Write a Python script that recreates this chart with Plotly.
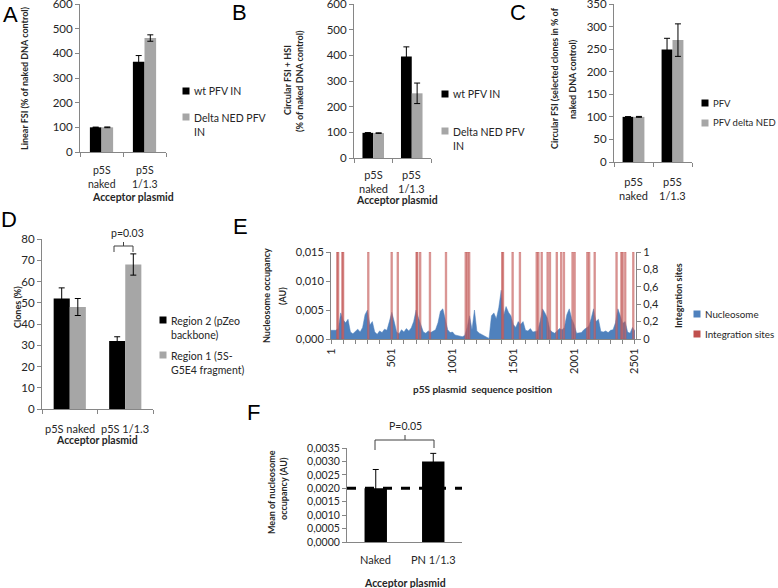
import plotly.graph_objects as go

W, H = 778, 588
def fx(px): return px / W
def fy(py): return 1 - py / H

# ---------------- DATA ----------------
cats_abc = ["p5S<br>naked", "p5S<br>1/1.3"]
a_wt = [100, 366]; a_wt_err = [1, 25]
a_dned = [100, 462]; a_dned_err = [1.5, 13]
b_wt = [98, 395]; b_wt_err = [1, 38]
b_dned = [97, 252]; b_dned_err = [1, 40]
c_pfv = [100, 249]; c_pfv_err = [0.5, 25]
c_dned = [100, 270]; c_dned_err = [1, 36]

d_cats = ["p5S naked", "p5S 1/1.3"]
d_reg2 = [52, 32]; d_reg2_err = [5, 2]
d_reg1 = [48, 68]; d_reg1_err = [4, 5]

e_pos = list(range(1, 2502, 20))
e_nuc = [0.0015, 0.0015, 0.0015, 0.0018, 0.0045, 0.0033, 0.0028, 0.0034, 0.0012, 0.0009,
         0.0014, 0.0017, 0.0012, 0.0020, 0.0042, 0.0050, 0.0024, 0.0030, 0.0012, 0.0008,
         0.0014, 0.0011, 0.0017, 0.0015, 0.0030, 0.0046, 0.0030, 0.0012, 0.0009, 0.0016,
         0.0012, 0.0018, 0.0014, 0.0019, 0.0030, 0.0050, 0.0036, 0.0025, 0.0012, 0.0010,
         0.0014, 0.0011, 0.0013, 0.0016, 0.0028, 0.0048, 0.0052, 0.0036, 0.0016, 0.0011,
         0.0012, 0.0007, 0.0006, 0.0004, 0.0004, 0.0006, 0.0020, 0.0040, 0.0016, 0.0050,
         0.0014, 0.0010, 0.0008, 0.0006, 0.0003, 0.0001, 0.0040, 0.0045, 0.0035, 0.0054,
         0.0084, 0.0040, 0.0056, 0.0046, 0.0040, 0.0025, 0.0020, 0.0030, 0.0025, 0.0030,
         0.0015, 0.0014, 0.0018, 0.0012, 0.0013, 0.0014, 0.0030, 0.0052, 0.0045, 0.0036,
         0.0016, 0.0012, 0.0010, 0.0015, 0.0018, 0.0016, 0.0020, 0.0042, 0.0052, 0.0035,
         0.0025, 0.0010, 0.0010, 0.0011, 0.0016, 0.0019, 0.0022, 0.0035, 0.0052, 0.0030,
         0.0034, 0.0013, 0.0012, 0.0014, 0.0011, 0.0015, 0.0016, 0.0028, 0.0052, 0.0040,
         0.0027, 0.0030, 0.0012, 0.0010, 0.0020, 0.0014]
e_sites = [53, 60, 95, 101, 308, 500, 550, 705, 711, 735, 815, 947, 1109, 1123, 1138,
           1410, 1416, 1495, 1555, 1693, 1707, 1734, 1783, 1802, 1858, 1895, 1917, 1988,
           2005, 2110, 2125, 2170, 2350, 2390, 2400, 2422, 2488]
e_site_val = [1, 1, 1, 1, 1, 1, 1, 1, 1, 1, 1, 1, 1, 1, 1, 1, 1, 1, 1, 1, 1, 1, 1, 1,
              1, 1, 1, 1, 1, 1, 1, 1, 1, 1, 1, 1, 1]
e_xticks = [1, 501, 1001, 1501, 2001, 2501]
e_yticks = [0, 0.005, 0.010, 0.015]
e_yticktext = ["0,000", "0,005", "0,010", "0,015"]
e_y2ticks = [0, 0.2, 0.4, 0.6, 0.8, 1]
e_y2ticktext = ["0", "0,2", "0,4", "0,6", "0,8", "1"]

f_cats = ["Naked", "PN 1/1.3"]
f_mean = [0.0020, 0.0030]; f_err = [0.0007, 0.0003]
f_ref = 0.0020
f_yticks = [0, 0.0005, 0.001, 0.0015, 0.002, 0.0025, 0.003, 0.0035]
f_yticktext = ["0,0000", "0,0005", "0,0010", "0,0015", "0,0020", "0,0025", "0,0030", "0,0035"]

# ---------------- STYLE ----------------
FONT = "Lato"
AX = "#868686"
TXT = "#262626"
BLACK = "#000000"
GREY = "#a6a6a6"
BLUE = "#4f81bd"
RED = "#c0504d"

fig = go.Figure()

def add_bar(x, y, err, color, xa, ya, width, offset):
    fig.add_trace(go.Bar(
        x=x, y=y, width=width, offset=offset, xaxis=xa, yaxis=ya,
        marker=dict(color=color, line=dict(width=0)),
        error_y=dict(type="data", array=err, color="black", thickness=1, width=3),
        showlegend=False, hoverinfo="skip"))

idx2 = list(range(len(cats_abc)))
add_bar(idx2, a_wt, a_wt_err, BLACK, "x", "y", 0.27, -0.27)
add_bar(idx2, a_dned, a_dned_err, GREY, "x", "y", 0.27, 0.0)
add_bar(idx2, b_wt, b_wt_err, BLACK, "x2", "y2", 0.28, -0.28)
add_bar(idx2, b_dned, b_dned_err, GREY, "x2", "y2", 0.28, 0.0)
add_bar(idx2, c_pfv, c_pfv_err, BLACK, "x3", "y3", 0.28, -0.28)
add_bar(idx2, c_dned, c_dned_err, GREY, "x3", "y3", 0.28, 0.0)
idxd = list(range(len(d_cats)))
add_bar(idxd, d_reg2, d_reg2_err, BLACK, "x4", "y4", 0.29, -0.29)
add_bar(idxd, d_reg1, d_reg1_err, GREY, "x4", "y4", 0.29, 0.0)

# E
fig.add_trace(go.Scatter(x=e_pos, y=e_nuc, mode="lines", fill="tozeroy",
                         line=dict(color=BLUE, width=0.5), fillcolor=BLUE,
                         xaxis="x5", yaxis="y5", showlegend=False, hoverinfo="skip"))
fig.add_trace(go.Bar(x=e_sites, y=e_site_val, width=12, xaxis="x5", yaxis="y6",
                     marker=dict(color="rgba(205,110,108,0.6)",
                                 line=dict(color="rgba(192,80,77,0.95)", width=0.5)),
                     showlegend=False, hoverinfo="skip"))

# F
idxf = list(range(len(f_cats)))
add_bar(idxf, f_mean, f_err, BLACK, "x7", "y7", 0.39, -0.195)
fig.add_trace(go.Scatter(x=[-0.5, 1.5], y=[f_ref, f_ref], mode="lines",
                         line=dict(color="black", width=3, dash="dash"),
                         xaxis="x7", yaxis="y7", showlegend=False, hoverinfo="skip"))

valfont = dict(family=FONT, size=11.5, color=TXT)

def cat_axis(x0, x1, cats, anchor):
    n = len(cats)
    return dict(domain=[fx(x0), fx(x1)], range=[-0.5, n - 0.5], anchor=anchor,
                tickmode="array", tickvals=list(range(n)), ticks="", showticklabels=False,
                showline=True, linecolor=AX, linewidth=1, showgrid=False, zeroline=False,
                automargin=False,
                minor=dict(tickmode="array", tickvals=[i - 0.5 for i in range(n + 1)],
                           ticks="outside", ticklen=4, tickcolor=AX, showgrid=False))

def val_axis(y0, y1, rng, anchor, tickvals, ticktext=None, font=valfont):
    d = dict(domain=[fy(y1), fy(y0)], range=rng, anchor=anchor, automargin=False,
             tickmode="array", tickvals=tickvals, ticks="outside", ticklen=4, tickcolor=AX,
             showline=True, linecolor=AX, linewidth=1, showgrid=False, zeroline=False,
             tickfont=font, ticklabeloverflow="allow")
    if ticktext is not None:
        d["ticktext"] = ticktext
    return d

efont = dict(family=FONT, size=11, color=TXT)
lay = {}
lay["xaxis"] = cat_axis(80, 166, cats_abc, "y")
lay["yaxis"] = val_axis(4, 152, [0, 600], "x", [0, 100, 200, 300, 400, 500, 600])
lay["xaxis2"] = cat_axis(354, 431, cats_abc, "y2")
lay["yaxis2"] = val_axis(4, 158, [0, 600], "x2", [0, 100, 200, 300, 400, 500, 600])
lay["xaxis3"] = cat_axis(614, 692, cats_abc, "y3")
lay["yaxis3"] = val_axis(4, 162, [0, 350], "x3", [0, 50, 100, 150, 200, 250, 300, 350])
lay["xaxis4"] = cat_axis(42, 153, d_cats, "y4")
lay["yaxis4"] = val_axis(239, 409, [0, 80], "x4", [0, 10, 20, 30, 40, 50, 60, 70, 80])
lay["xaxis5"] = dict(domain=[fx(331), fx(636)], range=[1, 2510], anchor="y5", automargin=False,
                     tickmode="array", tickvals=e_xticks, ticktext=[str(v) for v in e_xticks],
                     tickangle=-90, ticks="outside", ticklen=4, tickcolor=AX,
                     showline=True, linecolor=AX, showgrid=False, zeroline=False,
                     tickfont=efont, ticklabelstandoff=0, ticklabeloverflow="allow",
                     minor=dict(tick0=1, dtick=100, ticks="outside", ticklen=4,
                                tickcolor=AX, showgrid=False))
lay["yaxis5"] = val_axis(252, 339, [0, 0.015], "x5", e_yticks, e_yticktext, efont)
lay["yaxis6"] = dict(domain=[fy(339), fy(252)], range=[0, 1], anchor="x5", overlaying="y5",
                     side="right", tickmode="array", tickvals=e_y2ticks, ticktext=e_y2ticktext,
                     ticks="outside", ticklen=4, tickcolor=AX, showline=True, linecolor=AX,
                     showgrid=False, zeroline=False, tickfont=efont, automargin=False,
                     ticklabeloverflow="allow")
lay["xaxis7"] = cat_axis(347, 462, f_cats, "y7")
lay["xaxis7"]["minor"]["ticks"] = ""
lay["yaxis7"] = val_axis(448, 542, [0, 0.0035], "x7", f_yticks, f_yticktext,
                         dict(family=FONT, size=10.5, color=TXT))

ann = []
shapes = []
def text(x, y, s, size=10.5, bold=False, angle=0, xanchor="center", yanchor="middle", color=TXT, align="center"):
    ann.append(dict(x=fx(x), y=fy(y), xref="paper", yref="paper", text=("<b>%s</b>" % s) if bold else s,
                    showarrow=False, textangle=angle, xanchor=xanchor, yanchor=yanchor, align=align,
                    font=dict(family=FONT, size=size, color=color)))

def cat_labels(xref, cats, y_first, size=11):
    # category labels placed on the category axis scale (one text per category)
    for i, c in enumerate(cats):
        n = c.count("<br>") + 1
        yc = y_first + (n - 1) * 1.3 * size / 2
        ann.append(dict(x=i, xref=xref, y=fy(yc), yref="paper", text=c,
                        showarrow=False, xanchor="center", yanchor="middle", align="center",
                        font=dict(family=FONT, size=size, color=TXT)))

def swatch(cx, cy, color, s=7):
    shapes.append(dict(type="rect", xref="paper", yref="paper",
                       x0=fx(cx - s / 2), x1=fx(cx + s / 2), y0=fy(cy + s / 2), y1=fy(cy - s / 2),
                       fillcolor=color, line=dict(width=0)))

def legend_item(cx, cy, color, label, size=10.5):
    swatch(cx, cy, color)
    lines = label.count("<br>") + 1
    if lines == 1:
        text(cx + 6, cy, label, xanchor="left", align="left", size=size)
    else:
        text(cx + 6, cy - 7.5, label, xanchor="left", yanchor="top", align="left", size=size)

def seg(x0, y0, x1, y1, color="#404040", w=1):
    shapes.append(dict(type="line", xref="paper", yref="paper", x0=fx(x0), y0=fy(y0),
                       x1=fx(x1), y1=fy(y1), line=dict(color=color, width=w)))

# Panel letters
for (lx, ly, l) in [(10, 14, "A"), (239, 12, "B"), (518, 12, "C"), (9, 219, "D"),
                    (240, 227, "E"), (253, 413, "F")]:
    ann.append(dict(x=fx(lx), y=fy(ly), xref="paper", yref="paper", text=l, showarrow=False,
                    xanchor="center", yanchor="middle",
                    font=dict(family="Liberation Sans", size=22, color="black")))

cat_labels("x", cats_abc, 170.5, 10.5)
cat_labels("x2", cats_abc, 174.5)
cat_labels("x3", cats_abc, 181)
cat_labels("x4", d_cats, 428)
cat_labels("x7", f_cats, 559)

TS = 9
# A
text(24, 78, "Linear FSI (% of naked DNA control)", bold=True, angle=-90, size=TS)
text(133, 197, "Acceptor plasmid", bold=True, size=10.5)
legend_item(186, 91, BLACK, "wt PFV IN")
legend_item(186, 117, GREY, "Delta NED PFV<br>IN")
# B
text(287, 80, "Circular FSI + HSI", bold=True, angle=-90, size=TS)
text(300, 81, "(% of naked DNA control)", bold=True, angle=-90, size=TS)
text(397, 199.5, "Acceptor plasmid", bold=True, size=10.5)
legend_item(445, 94, BLACK, "wt PFV IN")
legend_item(445, 131, GREY, "Delta NED PFV<br>IN")
# C
text(554, 78, "Circular FSI (selected clones in % of", bold=True, angle=-90, size=TS)
text(573, 79, "naked DNA control)", bold=True, angle=-90, size=TS)
legend_item(705, 103, BLACK, "PFV", 9.5)
legend_item(705, 123, GREY, "PFV delta NED", 9.5)
# D
text(17, 307, "Clones (%)", bold=True, angle=-90, size=TS)
text(97, 440, "Acceptor plasmid", bold=True, size=10.5)
legend_item(163, 320, BLACK, "Region 2 (pZeo<br>backbone)")
legend_item(163, 355, GREY, "Region 1 (5S-<br>G5E4 fragment)")
text(128, 233, "p=0.03", size=10.5)
seg(114, 252, 114, 246); seg(114, 246, 133, 246); seg(133, 246, 133, 252); seg(123.5, 246, 123.5, 242)
# E
text(266, 296, "Nucleosome occupancy", bold=True, angle=-90, size=TS)
text(282, 296, "(AU)", bold=True, angle=-90, size=TS)
text(678, 296, "Integration sites", bold=True, angle=-90, size=TS)
text(483, 389, "p5S plasmid  sequence position", bold=True, size=10)
legend_item(697, 314, BLUE, "Nucleosome", 9.8)
legend_item(697, 334, RED, "Integration sites", 9.8)
# F
text(271, 492, "Mean of nucleosome", bold=True, angle=-90, size=TS)
text(283, 489, "occupancy (AU)", bold=True, angle=-90, size=TS)
text(405, 583, "Acceptor plasmid", bold=True, size=10.5)
text(405, 426, "P=0.05", size=10.5)
seg(375, 450, 375, 440); seg(375, 440, 434, 440); seg(434, 440, 434, 448); seg(405, 440, 405, 435)

fig.update_layout(width=W, height=H, margin=dict(l=0, r=0, t=0, b=0, autoexpand=False),
                  paper_bgcolor="white", plot_bgcolor="white", showlegend=False,
                  barmode="overlay", annotations=ann, shapes=shapes,
                  font=dict(family=FONT, color=TXT), **lay)
fig.write_html("out.html", config={"displayModeBar": False, "staticPlot": True},
               post_script="document.body.style.margin='0';document.body.style.overflow='hidden';")
